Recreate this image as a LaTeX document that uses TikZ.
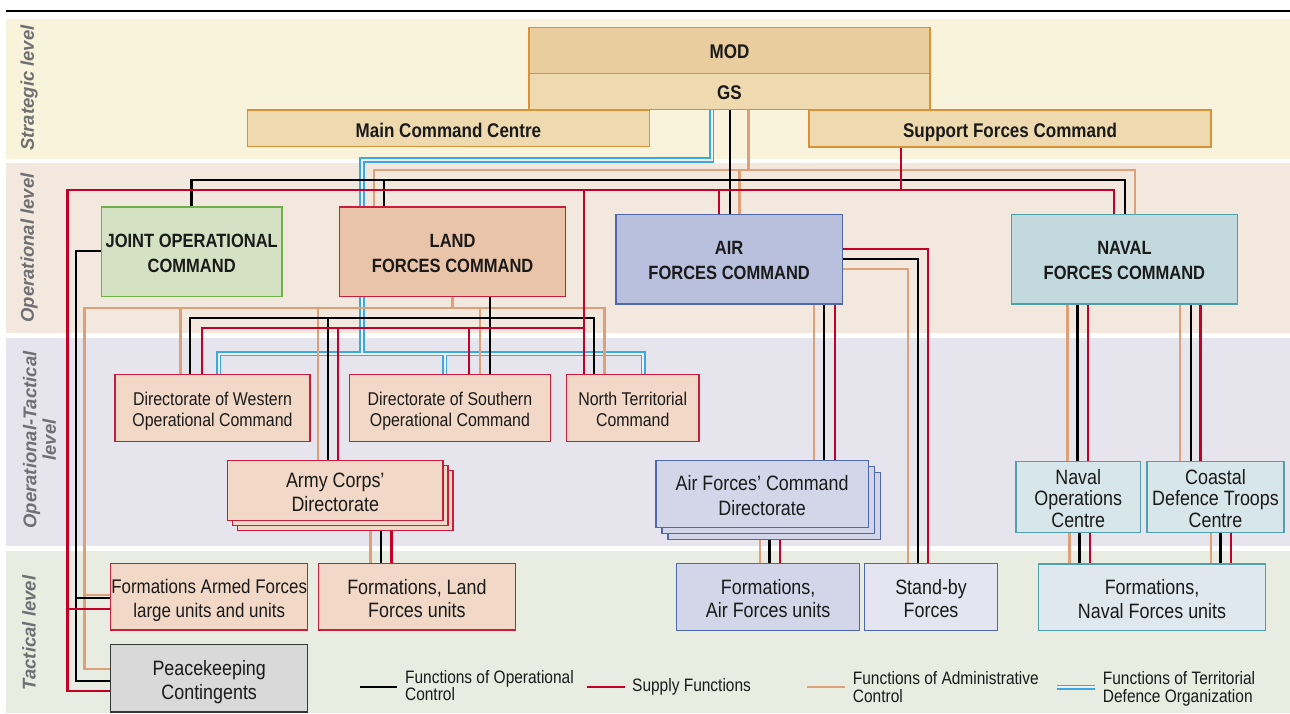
\documentclass[tikz,border=0pt]{standalone}
\usepackage{fontspec}
\setmainfont[FakeStretch=0.86]{Liberation Sans}
\newfontfamily\levelfont{Liberation Sans}
\usetikzlibrary{calc}

% palette
\definecolor{bandS}{RGB}{249,243,220}
\definecolor{bandO}{RGB}{243,232,222}
\definecolor{bandOT}{RGB}{230,228,236}
\definecolor{bandT}{RGB}{233,236,224}
\definecolor{modfill}{RGB}{233,205,158}
\definecolor{gsfill}{RGB}{239,218,176}
\definecolor{tanline}{RGB}{217,146,56}
\definecolor{jocfill}{RGB}{213,225,195}
\definecolor{jocline}{RGB}{110,177,75}
\definecolor{landfill}{RGB}{234,196,168}
\definecolor{dirfill}{RGB}{242,216,198}
\definecolor{boxred}{RGB}{200,30,60}
\definecolor{airfill}{RGB}{185,192,222}
\definecolor{airline}{RGB}{78,104,170}
\definecolor{airdirfill}{RGB}{210,214,232}
\definecolor{standbyfill}{RGB}{229,229,241}
\definecolor{navfill}{RGB}{194,218,221}
\definecolor{navline}{RGB}{78,160,170}
\definecolor{navsubfill}{RGB}{215,230,234}
\definecolor{navformfill}{RGB}{222,232,238}
\definecolor{pkfill}{RGB}{217,217,217}
\definecolor{pkline}{RGB}{55,55,55}
\definecolor{supred}{RGB}{195,0,40}
\definecolor{admor}{RGB}{222,160,120}
\definecolor{terrblue}{RGB}{58,168,226}
\definecolor{terrgap}{RGB}{240,240,242}
\definecolor{lvlgrey}{RGB}{110,112,115}
\definecolor{ink}{RGB}{26,26,26}

% text sizes
\newcommand\txhead{\fontsize{19.8}{25}\selectfont\bfseries}
\newcommand\txcmd{\fontsize{19.2}{25}\selectfont\bfseries}
\newcommand\txsmall{\fontsize{18.5}{20.5}\selectfont}
\newcommand\txlarge{\fontsize{20.8}{23.5}\selectfont}
\newcommand\txarmed{\fontsize{19.7}{24}\selectfont}
\newcommand\txlegend{\fontsize{18}{17.6}\selectfont}
\newcommand\txlevel{\levelfont\fontsize{18.5}{19.5}\selectfont\bfseries\itshape}

% box from corner coordinates: name, style, x1, y1, x2, y2, text;
% the text sits on its own node, centred on the box by its cap height
\newcommand\mkbox[7]{%
  \node[#2, minimum width={(#5)-(#3)}, minimum height={(#6)-(#4)}]
    (#1) at ({((#3)+(#5))/2},{((#4)+(#6))/2}) {};
  \node[#2, draw=none, fill=none, minimum width=0pt, minimum height=0pt,
    text depth=0pt, yshift=-1.6pt] (#1-t) at (#1.center) {#7};}

\pgfdeclarelayer{bands}
\pgfdeclarelayer{wires}
\pgfsetlayers{bands,wires,main}

\begin{document}
\begin{tikzpicture}[x=1pt,y=-1pt,
  box/.style={draw, line width=1.4pt, inner sep=1pt, outer sep=0pt,
    align=center, text=ink},
  hq/.style={box, fill=gsfill, draw=tanline, font=\txhead},
  jocbox/.style={box, fill=jocfill, draw=jocline, font=\txcmd},
  landbox/.style={box, fill=landfill, draw=boxred, font=\txcmd},
  dirbox/.style={box, fill=dirfill, draw=boxred, font=\txsmall},
  corpsbox/.style={box, fill=dirfill, draw=boxred, font=\txlarge},
  airbox/.style={box, fill=airfill, draw=airline, font=\txcmd},
  airdir/.style={box, fill=airdirfill, draw=airline, font=\txlarge},
  sbbox/.style={box, fill=standbyfill, draw=airline, font=\txlarge},
  navbox/.style={box, fill=navfill, draw=navline, font=\txcmd},
  navsub/.style={box, fill=navsubfill, draw=navline, font=\txlarge},
  navform/.style={box, fill=navformfill, draw=navline, font=\txlarge},
  pkbox/.style={box, fill=pkfill, draw=pkline, font=\txlarge},
  lvl/.style={rotate=90, font=\txlevel, text=lvlgrey, align=center, inner sep=0pt},
  legendtext/.style={anchor=west, inner sep=0pt, align=left, font=\txlegend, text=ink},
  conn/.style={line width=2.2pt, line join=miter},
  opc/.style={conn, draw=black},
  sup/.style={conn, draw=supred},
  adm/.style={conn, draw=admor},
  terrout/.style={line width=5.2pt, draw=terrblue, line join=miter},
  terrin/.style={line width=2.2pt, draw=terrgap, line join=miter},
]
\useasboundingbox (0,0) rectangle (1290,713);

% ---------- level bands ----------
\begin{pgfonlayer}{bands}
  \fill[white] (0,0) rectangle (1290,713);
  \draw[line width=2.2pt] (6,11) -- (1290,11);
  \fill[bandS]  (6,19)    rectangle (1290,159);
  \fill[bandO]  (6,163)   rectangle (1290,332.5);
  \fill[bandOT] (6,337.5) rectangle (1290,546);
  \fill[bandT]  (6,551)   rectangle (1290,713);
  \node[lvl] (lvS)  at (29,88)    {Strategic level};
  \node[lvl] (lvO)  at (29,248)   {Operational level};
  \node[lvl] (lvOT) at (39.5,440) {Operational-Tactical\\level};
  \node[lvl] (lvT)  at (29,633)   {Tactical level};
\end{pgfonlayer}

% ---------- boxes ----------
\mkbox{mod}{hq, fill=modfill}{529}{27.3}{930}{73.3}{MOD}
\mkbox{gs}{hq}{529}{73.3}{930}{109.5}{GS}
\mkbox{mcc}{hq}{247.5}{110}{649.4}{146.7}{Main Command Centre}
\mkbox{sfc}{hq}{809}{110}{1211}{147}{Support Forces Command}

\mkbox{joc}{jocbox}{101.4}{207}{282}{296.3}{JOINT OPERATIONAL\\COMMAND}
\mkbox{lfc}{landbox}{339.6}{207}{565.7}{296.3}{LAND\\FORCES COMMAND}
\mkbox{afc}{airbox}{616}{214.3}{842.3}{304}{AIR\\FORCES COMMAND}
\mkbox{nfc}{navbox}{1011.5}{214.3}{1237.4}{304}{NAVAL\\FORCES COMMAND}

\mkbox{wdir}{dirbox}{115}{374.3}{310}{441.3}{Directorate of Western\\Operational Command}
\mkbox{sdir}{dirbox}{349.3}{374.3}{550.5}{441.3}{Directorate of Southern\\Operational Command}
\mkbox{ntc}{dirbox}{566.5}{374.3}{699}{441.3}{North Territorial\\Command}

\mkbox{acdC}{corpsbox}{237.7}{470.7}{452.8}{530.7}{}
\mkbox{acdB}{corpsbox}{232.7}{465.7}{447.8}{525.7}{}
\mkbox{acd}{corpsbox}{227.7}{460.7}{442.8}{520.7}{Army Corps’\\Directorate}

\mkbox{afdC}{airdir}{667.8}{472.7}{880.4}{539.3}{}
\mkbox{afdB}{airdir}{661.8}{466.7}{874.4}{533.3}{}
\mkbox{afd}{airdir, font=\fontsize{20.8}{25}\selectfont}{655.8}{460.7}{868.4}{527.3}{Air Forces’ Command\\Directorate}

\mkbox{noc}{navsub, font=\fontsize{20.8}{21.3}\selectfont}{1016}{461.3}{1140.4}{532.3}{Naval\\Operations\\Centre}
\mkbox{cdt}{navsub, font=\fontsize{20.8}{21.3}\selectfont}{1147}{461.3}{1284}{532.3}{Coastal\\Defence Troops\\Centre}

\mkbox{faf}{corpsbox, font=\txarmed}{110.7}{563.3}{307.7}{630}{Formations Armed Forces\\large units and units}
\mkbox{flf}{corpsbox}{318.6}{563.3}{515.2}{630}{Formations, Land\\Forces units}
\mkbox{pkc}{pkbox}{110.7}{644.7}{307.7}{712}{Peacekeeping\\Contingents}
\mkbox{fau}{airdir}{676.5}{563.3}{859.7}{630.3}{Formations,\\Air Forces units}
\mkbox{sbf}{sbbox}{864.7}{563.3}{997.4}{630.3}{Stand-by\\Forces}
\mkbox{fnu}{navform}{1038.4}{564}{1265.6}{630.7}{Formations,\\Naval Forces units}

% ---------- connectors ----------
\begin{pgfonlayer}{wires}
  % territorial defence organization (double blue line)
  \coordinate (tdj) at (362,353.7);
  \foreach \pass in {terrout,terrin} {
    \draw[\pass] (gs.south -| 711.6,0) -- (711.6,160) -- (362,160) -- (tdj);
    \draw[\pass] (wdir.north -| 218.7,0) -- (218.7,353.7) -- (643.3,353.7) -- (ntc.north -| 643.3,0);
    \draw[\pass] (444.7,353.7) -- (sdir.north -| 444.7,0);
  }

  % administrative control
  \draw[adm] (gs.south -| 748.5,0) -- (748.5,170.3);
  \draw[adm] (lfc.north -| 374.3,0) -- (374.3,170.3) -- (1135.2,170.3) -- (nfc.north -| 1135.2,0);
  \draw[adm] (739.5,170.3) -- (afc.north -| 739.5,0);
  \draw[adm] (lfc.south -| 452.4,0) -- (452.4,308.3);
  \draw[adm] (pkc.west |- 0,669) -- (84.5,669) -- (84.5,308.3) -- (604.5,308.3) -- (ntc.north -| 604.5,0);
  \draw[adm] (84.5,595) -- (faf.west |- 0,595);
  \draw[adm] (180.5,308.3) -- (wdir.north -| 180.5,0);
  \draw[adm] (318.3,308.3) -- (acd.north -| 318.3,0);
  \draw[adm] (480.3,308.3) -- (sdir.north -| 480.3,0);
  \draw[adm] (acd.south -| 370.4,0) -- (flf.north -| 370.4,0);
  \draw[adm] (afc.east |- 0,269.3) -- (907.7,269.3) -- (sbf.north -| 907.7,0);
  \draw[adm] (afc.south -| 814.3,0) -- (afd.north -| 814.3,0);
  \draw[adm] (afd.south -| 759.8,0) -- (fau.north -| 759.8,0);
  \draw[adm] (nfc.south -| 1067.4,0) -- (noc.north -| 1067.4,0);
  \draw[adm] (nfc.south -| 1180.2,0) -- (cdt.north -| 1180.2,0);
  \draw[adm] (noc.south -| 1069.4,0) -- (fnu.north -| 1069.4,0);
  \draw[adm] (cdt.south -| 1210.8,0) -- (fnu.north -| 1210.8,0);

  % operational control
  \draw[opc] (gs.south -| 730,0) -- (afc.north -| 730,0);
  \draw[opc] (joc.north -| 191.5,0) -- (191.5,180.3) -- (1125,180.3) -- (nfc.north -| 1125,0);
  \draw[opc] (384.3,180.3) -- (lfc.north -| 384.3,0);
  \draw[opc] (joc.west |- 0,250.7) -- (76,250.7) -- (76,680.7) -- (pkc.west |- 0,680.7);
  \draw[opc] (76,598.3) -- (faf.west |- 0,598.3);
  \draw[opc] (lfc.south -| 490.3,0) -- (sdir.north -| 490.3,0);
  \draw[opc] (wdir.north -| 190,0) -- (190,318.3) -- (594.3,318.3) -- (ntc.north -| 594.3,0);
  \draw[opc] (328.3,318.3) -- (acd.north -| 328.3,0);
  \draw[opc] (acd.south -| 381.3,0) -- (flf.north -| 381.3,0);
  \draw[opc] (afc.east |- 0,259.3) -- (918,259.3) -- (sbf.north -| 918,0);
  \draw[opc] (afc.south -| 824.3,0) -- (afd.north -| 824.3,0);
  \draw[opc] (afd.south -| 769.4,0) -- (fau.north -| 769.4,0);
  \draw[opc] (nfc.south -| 1077.4,0) -- (noc.north -| 1077.4,0);
  \draw[opc] (nfc.south -| 1190.6,0) -- (cdt.north -| 1190.6,0);
  \draw[opc] (noc.south -| 1079.5,0) -- (fnu.north -| 1079.5,0);
  \draw[opc] (cdt.south -| 1220.4,0) -- (fnu.north -| 1220.4,0);

  % supply
  \draw[sup] (sfc.south -| 900.7,0) -- (900.7,190.3);
  \draw[sup] (pkc.west |- 0,690.7) -- (67.5,690.7) -- (67.5,190.3) -- (1114,190.3) -- (nfc.north -| 1114,0);
  \draw[sup] (67.5,609.3) -- (faf.west |- 0,609.3);
  \draw[sup] (719.3,190.3) -- (afc.north -| 719.3,0);
  \draw[sup] (584.3,190.3) -- (ntc.north -| 584.3,0);
  \draw[sup] (wdir.north -| 201.7,0) -- (201.7,328.3) -- (584.3,328.3);
  \draw[sup] (338.3,328.3) -- (acd.north -| 338.3,0);
  \draw[sup] (469.3,328.3) -- (sdir.north -| 469.3,0);
  \draw[sup] (acd.south -| 391.4,0) -- (flf.north -| 391.4,0);
  \draw[sup] (afc.east |- 0,249) -- (928.3,249) -- (sbf.north -| 928.3,0);
  \draw[sup] (afc.south -| 835.3,0) -- (afd.north -| 835.3,0);
  \draw[sup] (afd.south -| 780,0) -- (fau.north -| 780,0);
  \draw[sup] (nfc.south -| 1087.6,0) -- (noc.north -| 1087.6,0);
  \draw[sup] (nfc.south -| 1200.5,0) -- (cdt.north -| 1200.5,0);
  \draw[sup] (noc.south -| 1089.6,0) -- (fnu.north -| 1089.6,0);
  \draw[sup] (cdt.south -| 1231.2,0) -- (fnu.north -| 1231.2,0);
\end{pgfonlayer}

% ---------- legend ----------
\draw[opc, line width=2.8pt] (359.8,687) -- (397.3,687);
\node[legendtext] (lgO) at (404.9,685.5) {Functions of Operational\\Control};
\draw[sup, line width=2.8pt] (587,687) -- (624.6,687);
\node[legendtext] (lgS) at (632,687) {Supply Functions};
\draw[adm, line width=2.8pt] (807,687) -- (844.8,687);
\node[legendtext] (lgA) at (852.7,687) {Functions of Administrative\\Control};
\draw[terrout, line width=4.6pt] (1057,687.2) -- (1095,687.2);
\draw[terrin, line width=1.6pt] (1057,687.2) -- (1095,687.2);
\node[legendtext] (lgT) at (1102.7,689) {Functions of Territorial\\Defence Organization};
\end{tikzpicture}
\end{document}
